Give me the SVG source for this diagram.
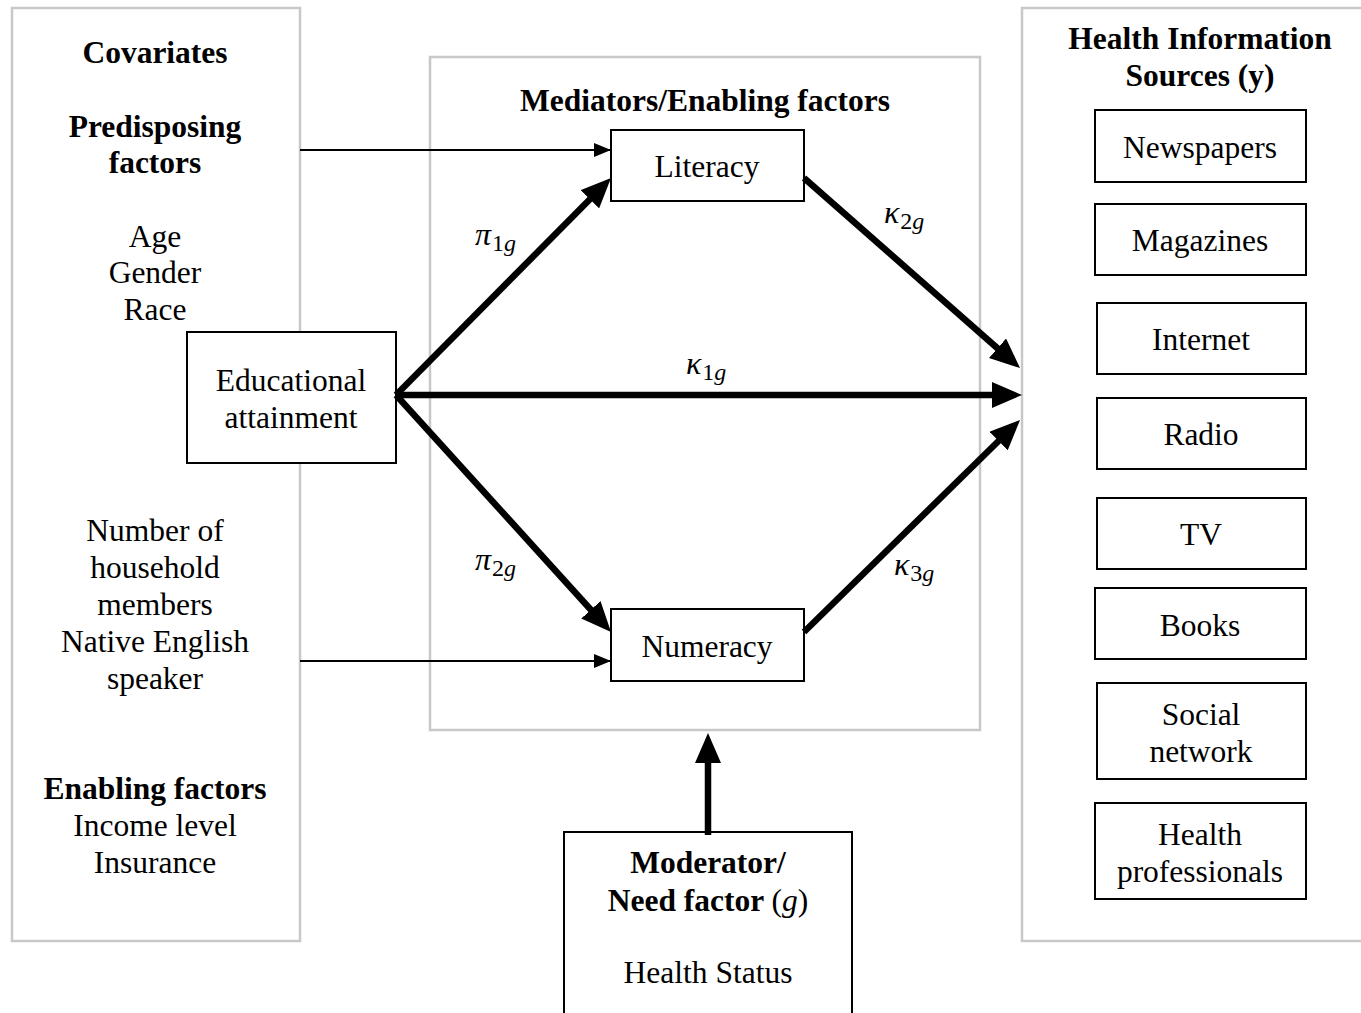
<svg xmlns="http://www.w3.org/2000/svg" width="1361" height="1013" viewBox="0 0 1361 1013">
<defs>
<style>
.panel{fill:#fff;stroke:#c8c8c8;stroke-width:2.5}
.box{fill:#fff;stroke:#000;stroke-width:2}
.t{font-family:"Liberation Serif","Times New Roman",serif;font-size:31.5px;fill:#000;text-anchor:middle}
.b{font-weight:bold}
.m{font-family:"Liberation Serif","Times New Roman",serif;font-style:italic;font-size:32px;fill:#000}
.s{font-size:24px}
.thick{stroke:#000;stroke-width:6.5;fill:none}
.thin{stroke:#000;stroke-width:2;fill:none}
</style>
<marker id="ah" viewBox="0 0 30 26" refX="6" refY="13" markerWidth="30" markerHeight="26" markerUnits="userSpaceOnUse" orient="auto"><path d="M0,0 L30,13 L0,26 z" fill="#000"/></marker>
<marker id="ahs" viewBox="0 0 17 14" refX="17" refY="7" markerWidth="17" markerHeight="14" markerUnits="userSpaceOnUse" orient="auto"><path d="M0,0 L17,7 L0,14 z" fill="#000"/></marker>
</defs>
<rect width="1361" height="1013" fill="#fff"/>

<g id="covariates">
<rect class="panel" x="12" y="8" width="288" height="933"/>
<text class="t b" x="155" y="63">Covariates</text>
<text class="t b" x="155" y="137">Predisposing</text>
<text class="t b" x="155" y="173">factors</text>
<text class="t" x="155" y="247">Age</text>
<text class="t" x="155" y="283">Gender</text>
<text class="t" x="155" y="320">Race</text>
<text class="t" x="155" y="541">Number of</text>
<text class="t" x="155" y="578">household</text>
<text class="t" x="155" y="615">members</text>
<text class="t" x="155" y="652">Native English</text>
<text class="t" x="155" y="689">speaker</text>
<text class="t b" x="155" y="799">Enabling factors</text>
<text class="t" x="155" y="836">Income level</text>
<text class="t" x="155" y="873">Insurance</text>
</g>

<g id="mediators">
<rect class="panel" x="430" y="57" width="550" height="673"/>
<text class="t b" x="705" y="111">Mediators/Enabling factors</text>
</g>

<g id="sources">
<rect class="panel" x="1022" y="8" width="345" height="933"/>
<text class="t b" x="1200" y="49">Health Information</text>
<text class="t b" x="1200" y="86">Sources (y)</text>
</g>

<g id="education">
<rect class="box" x="187" y="332" width="209" height="131"/>
<text class="t" x="291" y="391">Educational</text>
<text class="t" x="291" y="428">attainment</text>
</g>

<g id="literacy">
<rect class="box" x="611" y="130" width="193" height="71"/>
<text class="t" x="707" y="177">Literacy</text>
</g>

<g id="numeracy">
<rect class="box" x="611" y="609" width="193" height="72"/>
<text class="t" x="707" y="657">Numeracy</text>
</g>

<g id="moderator">
<rect class="box" x="564" y="832" width="288" height="200"/>
<text class="t b" x="708" y="873">Moderator/</text>
<text class="t" x="708" y="911"><tspan class="b">Need factor </tspan>(<tspan font-style="italic">g</tspan>)</text>
<text class="t" x="708" y="983">Health Status</text>
</g>

<g id="newspapers"><rect class="box" x="1095" y="110" width="211" height="72"/><text class="t" x="1200" y="158">Newspapers</text></g>
<g id="magazines"><rect class="box" x="1095" y="204" width="211" height="71"/><text class="t" x="1200" y="251">Magazines</text></g>
<g id="internet"><rect class="box" x="1097" y="303" width="209" height="71"/><text class="t" x="1201" y="350">Internet</text></g>
<g id="radio"><rect class="box" x="1097" y="398" width="209" height="71"/><text class="t" x="1201" y="445">Radio</text></g>
<g id="tv"><rect class="box" x="1097" y="498" width="209" height="71"/><text class="t" x="1201" y="545">TV</text></g>
<g id="books"><rect class="box" x="1095" y="588" width="211" height="71"/><text class="t" x="1200" y="636">Books</text></g>
<g id="social"><rect class="box" x="1097" y="683" width="209" height="96"/><text class="t" x="1201" y="725">Social</text><text class="t" x="1201" y="762">network</text></g>
<g id="healthpro"><rect class="box" x="1095" y="803" width="211" height="96"/><text class="t" x="1200" y="845">Health</text><text class="t" x="1200" y="882">professionals</text></g>

<g id="connectors">
<line class="thin" x1="300" y1="150" x2="611" y2="150" marker-end="url(#ahs)"/>
<line class="thin" x1="300" y1="661" x2="611" y2="661" marker-end="url(#ahs)"/>
<line class="thick" x1="396" y1="395" x2="594.1" y2="195" marker-end="url(#ah)"/>
<line class="thick" x1="396" y1="395" x2="998" y2="395" marker-end="url(#ah)"/>
<line class="thick" x1="396" y1="395" x2="594.9" y2="614.2" marker-end="url(#ah)"/>
<line class="thick" x1="804" y1="178" x2="1002" y2="352.2" marker-end="url(#ah)"/>
<line class="thick" x1="804" y1="632" x2="1002.9" y2="436.8" marker-end="url(#ah)"/>
<line class="thick" x1="708" y1="835" x2="708" y2="757" marker-end="url(#ah)"/>
<text class="m" x="475" y="245">π<tspan class="s" font-style="normal" dx="1" dy="6">1</tspan><tspan class="s">g</tspan></text>
<text class="m" x="475" y="570">π<tspan class="s" font-style="normal" dx="1" dy="6">2</tspan><tspan class="s">g</tspan></text>
<text class="m" x="884" y="223">κ<tspan class="s" font-style="normal" dx="1" dy="6">2</tspan><tspan class="s">g</tspan></text>
<text class="m" x="686" y="374">κ<tspan class="s" font-style="normal" dx="1" dy="6">1</tspan><tspan class="s">g</tspan></text>
<text class="m" x="894" y="575">κ<tspan class="s" font-style="normal" dx="1" dy="6">3</tspan><tspan class="s">g</tspan></text>
</g>
</svg>
